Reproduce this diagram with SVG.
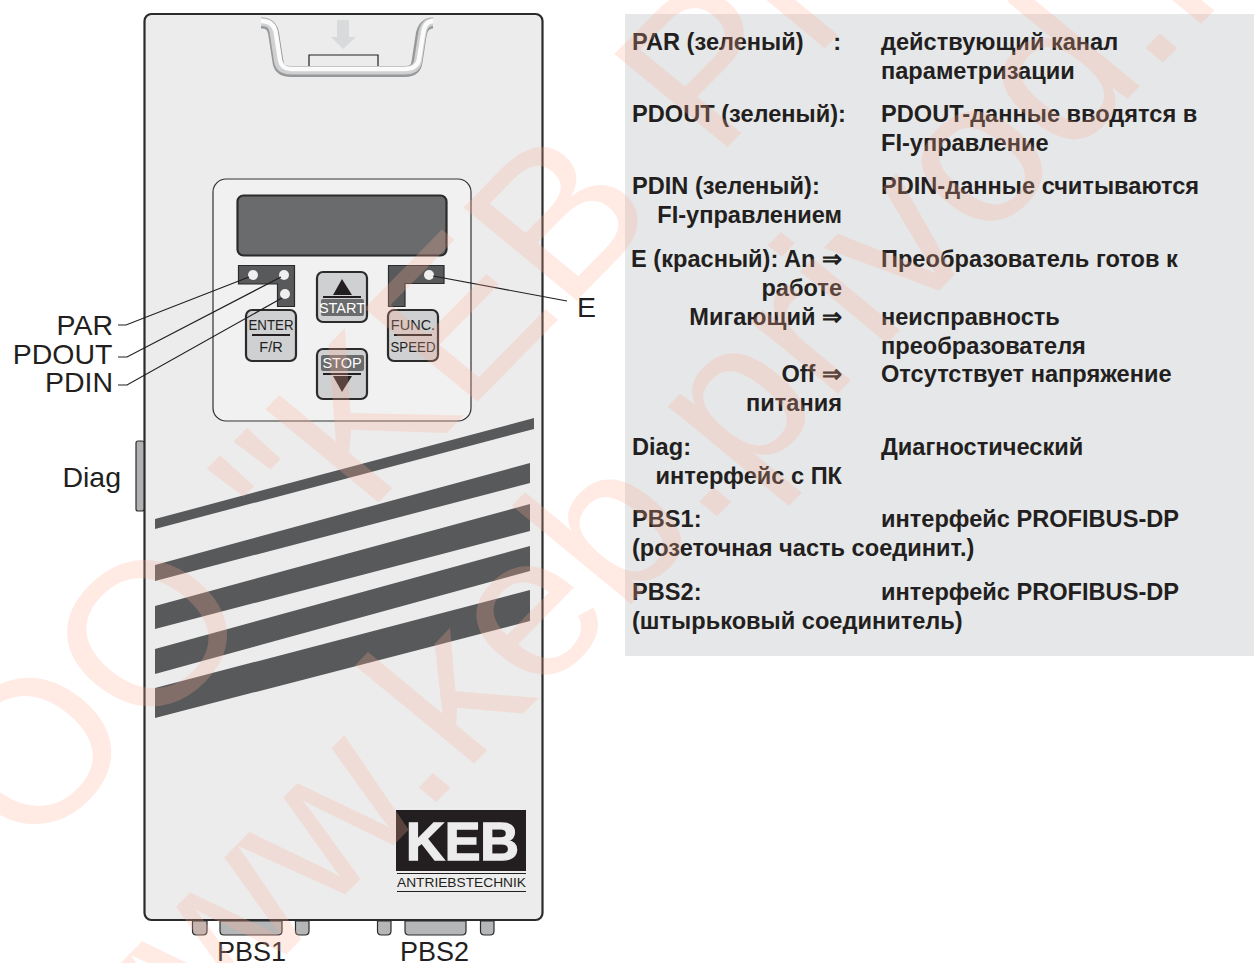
<svg xmlns="http://www.w3.org/2000/svg" width="1254" height="963" viewBox="0 0 1254 963">
<defs>
<style>
text{font-family:"Liberation Sans",Arial,sans-serif;fill:#231f20}
.b{font-weight:700;font-size:23.6px}
.e{text-anchor:end}
.lab{font-size:28.5px}
.btn{fill:#cfd0d2;stroke:#2b2b2b;stroke-width:2.2}
.bt{font-size:14.5px;text-anchor:middle}
.dark{fill:#58595b;stroke:#2b2b2b;stroke-width:1.2}
.led{fill:#efefef}
.ln{fill:none;stroke:#231f20;stroke-width:1.2}
.bar{fill:none;stroke:#231f20;stroke-width:2}
.st{fill:#58595b}
.con{fill:#b5b6b8;stroke:#2b2b2b;stroke-width:1.2}
.wm{font-size:212px;word-spacing:15px;fill:rgb(255,175,150);opacity:.25}
.h{fill:none}
</style>
</defs>
<rect width="1254" height="963" fill="#fff"/>
<g id="device">
<rect x="144.500" y="14" width="398" height="906" rx="7" fill="#ececec" stroke="#2b2b2b" stroke-width="2.200"/>
</g>
<g id="handle">
<polygon points="337,20 349,20 349,37 356,37 343,49 331,37 337,37" fill="#d9dadb"/>
<path d="M309,66V55H378V66" class="ln"/>
<path class="h" stroke="#97989a" stroke-width="11" d="M261,23C270,23 273,27 274,36L278,62C279,69 283,71.500 291,71.500H405C412,71.500 416,69 417,62L421,36C422,28 426,23 433,23"/>
<path class="h" stroke="#cfd0d1" stroke-width="8" d="M261,22C270,22 273,26 274,35L278,61C279,68 283,70.500 291,70.500H405C412,70.500 417,68 418,61L422,35C423,27 426,22 433,22"/>
<path class="h" stroke="#fbfbfb" stroke-width="4.500" d="M261,21C271,21 275,26 276,34L280,60C281,66 285,69 291,69H405C412,69 418,66 419,59L423,34C424,26 427,21 433,21"/>
</g>
<g id="panel">
<rect x="213" y="179" width="258" height="242" rx="13" fill="#f1f1f1" stroke="#333" stroke-width="1.200"/>
<rect x="237.500" y="195.500" width="209" height="60" rx="6" fill="#6a6b6d" stroke="#2b2b2b" stroke-width="2.200"/>
</g>
<g id="led-left">
<path class="dark" d="M238.500,265.500H294.500V306.500H277.500V284H238.500Z"/>
<circle class="led" cx="253" cy="275" r="5"/><circle class="led" cx="284" cy="275" r="5"/><circle class="led" cx="285" cy="294" r="5"/>
</g>
<g id="led-right">
<path class="dark" d="M388.500,265.500H444V283.500H405V306.500H388.500Z"/>
<circle class="led" cx="429" cy="275" r="5"/>
</g>
<g id="btn-start">
<rect class="btn" x="317" y="272" width="50" height="50" rx="6"/>
<polygon points="342,279 333,295 352,295" fill="#231f20"/>
<path d="M323,297H361" class="bar"/>
<rect x="321" y="299" width="43" height="17" rx="2" fill="#6a6b6d"/>
<text class="bt" x="342" y="312.500" style="fill:#fff">START</text>
</g>
<g id="btn-stop">
<rect class="btn" x="317" y="349" width="50" height="50" rx="6"/>
<rect x="321" y="355" width="43" height="16" rx="2" fill="#6a6b6d"/>
<text class="bt" x="342" y="368" style="fill:#fff">STOP</text>
<path d="M323,374H361" class="bar"/>
<polygon points="333,376 352,376 342,392" fill="#231f20"/>
</g>
<g id="btn-enter">
<rect class="btn" x="246" y="310" width="50" height="51" rx="6"/>
<text class="bt" x="271" y="329.500" textLength="45" lengthAdjust="spacingAndGlyphs">ENTER</text>
<path d="M252,335H290" class="bar"/>
<text class="bt" x="271" y="352">F/R</text>
</g>
<g id="btn-func">
<rect class="btn" x="388" y="310" width="50" height="51" rx="6"/>
<text class="bt" x="413" y="330">FUNC.</text>
<path d="M394,335H432" class="bar"/>
<text class="bt" x="413" y="352" textLength="45" lengthAdjust="spacingAndGlyphs">SPEED</text>
</g>
<g id="stripes">
<polygon class="st" points="155,519 534,418 534,429 155,529"/>
<polygon class="st" points="155,565 530,463 530,483 155,581"/>
<polygon class="st" points="155,606 530,504 530,531 155,629"/>
<polygon class="st" points="155,649 530,546 530,571 155,674"/>
<polygon class="st" points="155,688 530,590 530,621 155,718"/>
</g>
<g id="diag-port">
<rect x="136" y="441" width="8" height="70" rx="2" fill="#b0b1b3" stroke="#2b2b2b" stroke-width="1.200"/>
</g>
<g id="logo">
<rect x="396" y="810" width="130" height="61" fill="#231f20"/>
<text x="406" y="860" font-weight="700" font-size="53" textLength="113" lengthAdjust="spacingAndGlyphs" style="fill:#ececec;stroke:#ececec;stroke-width:1.500">KEB</text>
<path d="M397,873.500H526M397,891.500H526" class="ln"/>
<text x="397" y="887" font-size="13" textLength="129" lengthAdjust="spacingAndGlyphs">ANTRIEBSTECHNIK</text>
</g>
<g id="pbs1">
<path class="con" d="M192.500,921V931Q192.500,935 196.500,935H203Q207,935 207,931V921Z"/>
<path class="con" d="M220,921V931Q220,935 224,935H278Q282,935 282,931V921Z"/>
<path class="con" d="M295.500,921V931Q295.500,935 299.500,935H305Q309,935 309,931V921Z"/>
<text class="lab" x="217" y="961" style="font-size:27px">PBS1</text>
</g>
<g id="pbs2">
<path class="con" d="M377.500,921V931Q377.500,935 381.500,935H387Q391,935 391,931V921Z"/>
<path class="con" d="M405,921V931Q405,935 409,935H462Q466,935 466,931V921Z"/>
<path class="con" d="M480.500,921V931Q480.500,935 484.500,935H490Q494,935 494,931V921Z"/>
<text class="lab" x="400" y="961" style="font-size:27px">PBS2</text>
</g>
<g id="connectors">
<path class="ln" d="M118,325H126L249,277"/>
<path class="ln" d="M118,357H127L281,277"/>
<path class="ln" d="M118,385H127L282,298"/>
<path class="ln" d="M433,276L567,301"/>
</g>
<g id="labels">
<text class="lab e" x="113" y="335">PAR</text>
<text class="lab e" x="112.500" y="364">PDOUT</text>
<text class="lab e" x="113" y="392">PDIN</text>
<text class="lab e" x="121" y="487">Diag</text>
<text class="lab" x="577" y="317">E</text>
</g>
<g id="legend">
<rect x="625" y="14" width="629" height="642" fill="#e6e7e8"/>
<text class="b" x="632" y="50">PAR (зеленый)</text><text class="b e" x="841" y="50">:</text><text class="b" x="881" y="50">действующий канал</text>
<text class="b" x="881" y="79">параметризации</text>
<text class="b" x="632" y="122">PDOUT (зеленый):</text><text class="b" x="881" y="122">PDOUT-данные вводятся в</text>
<text class="b" x="881" y="151">FI-управление</text>
<text class="b" x="632" y="194">PDIN (зеленый):</text><text class="b" x="881" y="194">PDIN-данные считываются</text>
<text class="b e" x="842" y="223">FI-управлением</text>
<text class="b e" x="842" y="267">E (красный): An ⇒</text><text class="b" x="881" y="267">Преобразователь готов к</text>
<text class="b e" x="842" y="296">работе</text>
<text class="b e" x="842" y="325">Мигающий ⇒</text><text class="b" x="881" y="325">неисправность</text>
<text class="b" x="881" y="354">преобразователя</text>
<text class="b e" x="842" y="382">Off ⇒</text><text class="b" x="881" y="382">Отсутствует напряжение</text>
<text class="b e" x="842" y="411">питания</text>
<text class="b" x="632" y="455">Diag:</text><text class="b" x="881" y="455">Диагностический</text>
<text class="b e" x="842" y="484">интерфейс с ПК</text>
<text class="b" x="632" y="527">PBS1:</text><text class="b" x="881" y="527">интерфейс PROFIBUS-DP</text>
<text class="b" x="632" y="556">(розеточная часть соединит.)</text>
<text class="b" x="632" y="600">PBS2:</text><text class="b" x="881" y="600">интерфейс PROFIBUS-DP</text>
<text class="b" x="632" y="629">(штырьковый соединитель)</text>
</g>
<g id="watermark">
<text class="wm" transform="translate(-85,974) rotate(-45.500) skewX(5)">OOO "KEB Privod.</text>
<text class="wm" transform="translate(109,1135) rotate(-45.500) skewX(5)">www.keb.privod.ru</text>
</g>
</svg>
